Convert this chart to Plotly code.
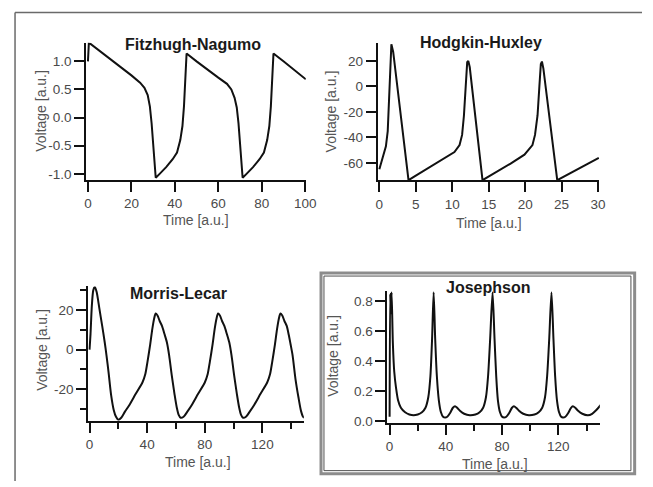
import plotly.graph_objects as go

# ---------------- data ----------------
fhn_t = [0, 0.4, 1.2, 5, 10, 15, 20, 24, 26, 27.5, 28.5, 29.3, 30, 30.7, 31.2,
         33, 36, 39, 41, 42.5, 43.5, 44.2, 44.8, 45.4,
         50, 55, 60, 64, 66, 67.5, 68.5, 69.3, 70, 70.7, 71.2,
         73, 76, 79, 81, 82.5, 83.5, 84.2, 84.8, 85.4, 90, 95, 100.3]
fhn_v = [1.0, 1.32, 1.31, 1.2, 1.05, 0.9, 0.75, 0.62, 0.53, 0.4, 0.2, -0.1, -0.5, -0.9, -1.07,
         -1.0, -0.88, -0.74, -0.62, -0.4, -0.15, 0.2, 0.8, 1.14,
         1.0, 0.85, 0.71, 0.6, 0.5, 0.35, 0.18, -0.1, -0.5, -0.9, -1.07,
         -1.0, -0.88, -0.74, -0.62, -0.4, -0.15, 0.2, 0.8, 1.14, 1.0, 0.84, 0.68]

hh_t = [0, 0.5, 0.9, 1.15, 1.3, 1.45, 1.65, 1.9, 4.0, 5, 7, 9, 10.3, 11, 11.35, 11.6, 11.85, 12.05, 12.2, 12.4,
        14.15, 16, 18, 19.9, 21, 21.35, 21.7, 21.95, 22.15, 22.3, 22.5, 24.4, 26, 28, 30.1]
hh_v = [-65, -55, -47, -35, -10, 15, 33, 27, -73.5, -70, -63, -56, -51.5, -46, -38, -23, 0, 19, 20, 15,
        -73.5, -67.5, -60.5, -53.5, -46, -38, -22.6, 0, 17.5, 19.5, 14, -73.5, -68.5, -62.5, -56]

ml_t = [0, 0.7, 1.6, 2.6, 3.7, 5, 6.8, 8.8, 10.5, 11.8, 13.3, 15, 16.8, 18.4, 20,
        22, 24.5, 27.7, 32, 36.8, 38.7, 40.2, 42, 43.6, 44.8, 45.9, 47.2, 48.7, 50.3, 52, 53.7,
        55.3, 57.1, 59, 60.5, 61.9, 63.3,
        65.3, 67.8, 71, 75.3, 80.1, 82, 83.5, 85.3, 86.9, 88.1, 89.2, 90.5, 92, 93.6, 95.3, 97,
        98.6, 100.4, 102.3, 103.8, 105.2, 106.6,
        108.6, 111.1, 114.3, 118.6, 123.4, 125.3, 126.8, 128.6, 130.2, 131.4, 132.5, 133.8, 135.3,
        136.9, 138.3, 139.5, 141, 143, 145, 146.8, 148.3, 149.5]
ml_v = [0, 8, 22, 30, 31.8, 29, 21, 12, 4, -3, -12, -23, -30.5, -34, -35.5,
        -34.5, -31.5, -28, -22.5, -16.5, -12.5, -6.3, 2, 10.5, 15.5, 18.3, 17.3, 14.5, 12, 8, 3.7,
        -3, -13, -22.5, -29, -33, -34.5,
        -34, -31.5, -28, -22.5, -16.5, -12.5, -6.3, 2, 10.5, 15.5, 18.3, 17.3, 14.5, 12, 8, 3.7,
        -3, -13, -22.5, -29, -33, -34.5,
        -34, -31.5, -28, -22.5, -16.5, -12.5, -6.3, 2, 10.5, 15.5, 18.3, 17.3, 14.5,
        12, 7.5, 3, -3, -15, -24, -31, -34, -34.5]

jj_t = [0, 0.4, 0.9, 1.4, 2.3, 3.3, 4.6, 6, 8, 11, 14, 17, 20, 23, 25.5, 27.5, 29, 30.2, 31.3,
        32.4, 33.6, 35, 36.5, 38, 39.5, 41, 43, 45, 46.5, 48, 50, 53, 57, 61, 64, 66.5, 68.5, 70,
        71.5, 73.2, 74.6, 75.8, 77, 78.5, 80, 81.4, 83, 85, 87, 88.4, 90, 92, 95, 99, 103, 106,
        108.5, 110.5, 112, 113.5, 115.1, 116.5, 117.7, 119, 120.5, 122, 123.3, 125, 127, 129,
        130.3, 132, 134, 137, 141, 144, 147, 150.3]
jj_v = [0.03, 0.85, 0.72, 0.86, 0.52, 0.33, 0.22, 0.14, 0.09, 0.06, 0.045, 0.04, 0.045, 0.06,
        0.09, 0.16, 0.3, 0.55, 0.86,
        0.55, 0.3, 0.14, 0.06, 0.03, 0.025, 0.03, 0.055, 0.09, 0.1, 0.09, 0.07, 0.05, 0.04, 0.045,
        0.06, 0.09, 0.16, 0.3,
        0.55, 0.86, 0.55, 0.3, 0.14, 0.06, 0.03, 0.025, 0.03, 0.055, 0.09, 0.1, 0.09, 0.07, 0.05,
        0.04, 0.045, 0.06,
        0.09, 0.16, 0.3, 0.55, 0.86, 0.55, 0.3, 0.14, 0.06, 0.03, 0.025, 0.03, 0.055, 0.09,
        0.1, 0.09, 0.07, 0.05, 0.04, 0.05, 0.075, 0.11]

titles = ["Fitzhugh-Nagumo", "Hodgkin-Huxley", "Morris-Lecar", "Josephson"]
xlabel = "Time [a.u.]"
ylabel = "Voltage [a.u.]"

fhn_xticks = [0, 20, 40, 60, 80, 100]
fhn_yticks = [1.0, 0.5, 0.0, -0.5, -1.0]
fhn_yticktext = ["1.0", "0.5", "0.0", "-0.5", "-1.0"]
hh_xticks = [0, 5, 10, 15, 20, 25, 30]
hh_yticks = [20, 0, -20, -40, -60]
hh_yticktext = ["20", "0", "-20", "-40", "-60"]
ml_xticks = [0, 40, 80, 120]
ml_xminor = [20, 60, 100, 140]
ml_yticks = [20, 0, -20]
ml_yticktext = ["20", "0", "-20"]
ml_yminor = [30, 10, -10, -30]
jj_xticks = [0, 40, 80, 120]
jj_xminor = [20, 60, 100, 140]
jj_yticks = [0.0, 0.2, 0.4, 0.6, 0.8]
jj_yticktext = ["0.0", "0.2", "0.4", "0.6", "0.8"]

# ---------------- layout helpers ----------------
W, H = 653, 487
def px(x):
    return x / W
def py(y):
    return 1 - y / H

FONT = "Arial, Liberation Sans, sans-serif"
TICKC = "#4a4a4a"
LINEC = "#111111"

fig = go.Figure()
traces = [(fhn_t, fhn_v, "linear"), (hh_t, hh_v, "linear"),
          (ml_t, ml_v, "spline"), (jj_t, jj_v, "spline")]
for i, (t, v, shp) in enumerate(traces):
    n = "" if i == 0 else str(i + 1)
    fig.add_trace(go.Scatter(x=t, y=v, mode="lines", xaxis="x" + n, yaxis="y" + n,
                             line=dict(color=LINEC, width=2, shape=shp,
                                       smoothing=0.7 if shp == "spline" else None),
                             showlegend=False, hoverinfo="skip"))

def xax(dom, rng, vals, anchor, minor=None):
    d = dict(domain=[px(dom[0]), px(dom[1])], range=rng, anchor=anchor,
             tickmode="array", tickvals=vals, ticktext=[str(v) for v in vals],
             ticks="outside", ticklen=10, tickwidth=2, tickcolor=LINEC,
             showline=True, linecolor=LINEC, linewidth=2, showgrid=False, zeroline=False,
             tickfont=dict(family=FONT, size=13.5, color=TICKC), fixedrange=True)
    if minor:
        d["minor"] = dict(tickmode="array", tickvals=minor, ticks="outside", ticklen=6,
                          tickwidth=2, tickcolor=LINEC, showgrid=False)
    return d

def yax(dom, rng, vals, text, anchor, minor=None):
    d = dict(domain=[py(dom[1]), py(dom[0])], range=rng, anchor=anchor,
             tickmode="array", tickvals=vals, ticktext=text,
             ticks="outside", ticklen=10, tickwidth=2, tickcolor=LINEC,
             showline=True, linecolor=LINEC, linewidth=2, showgrid=False, zeroline=False,
             tickfont=dict(family=FONT, size=13.5, color=TICKC), fixedrange=True)
    if minor:
        d["minor"] = dict(tickmode="array", tickvals=minor, ticks="outside", ticklen=6,
                          tickwidth=2, tickcolor=LINEC, showgrid=False)
    return d

fig.update_layout(
    width=W, height=H, margin=dict(l=0, r=0, t=0, b=0),
    paper_bgcolor="white", plot_bgcolor="white",
    xaxis=xax((86, 310), [-0.77, 100.3], fhn_xticks, "y"),
    yaxis=yax((43.3, 182), [-1.105, 1.33], fhn_yticks, fhn_yticktext, "x"),
    xaxis2=xax((383.3, 609.3), [-0.23, 30.15], hh_xticks, "y2"),
    yaxis2=yax((43.3, 182.7), [-73.7, 34.2], hh_yticks, hh_yticktext, "x2"),
    xaxis3=xax((88, 308), [-0.88, 148.8], ml_xticks, "y3", ml_xminor),
    yaxis3=yax((290, 426), [-36, 32], ml_yticks, ml_yticktext, "x3", ml_yminor),
    xaxis4=xax((393.3, 610), [-1.53, 149.5], jj_xticks, "y4", jj_xminor),
    yaxis4=yax((295, 428.5), [-0.013, 0.866], jj_yticks, jj_yticktext, "x4"),
)

ann = []
title_pos = [(195, 45), (489, 42.7), (180.5, 297), (495.7, 290.7)]
for (x, y), t in zip(title_pos, titles):
    ann.append(dict(text="<b>" + t + "</b>", x=px(x), y=py(y), xref="paper", yref="paper",
                    xanchor="center", yanchor="middle", showarrow=False,
                    font=dict(family=FONT, size=16, color="#1a1a1a")))
xlab_pos = [(198, 223), (497, 226), (200, 467.7), (503.3, 469.3)]
for x, y in xlab_pos:
    ann.append(dict(text=xlabel, x=px(x), y=py(y), xref="paper", yref="paper",
                    xanchor="center", yanchor="middle", showarrow=False,
                    font=dict(family=FONT, size=14, color="#555555")))
ylab_pos = [(39.5, 112.5), (335.5, 113), (40, 354), (338.3, 360.7)]
for x, y in ylab_pos:
    ann.append(dict(text=ylabel, x=px(x), y=py(y), xref="paper", yref="paper",
                    xanchor="center", yanchor="middle", showarrow=False, textangle=-90,
                    font=dict(family=FONT, size=14, color="#555555")))
fig.update_layout(annotations=ann)

shapes = [
    dict(type="line", xref="paper", yref="paper", x0=px(13.3), x1=px(653), y0=py(12.7), y1=py(12.7),
         line=dict(color="#6a6a6a", width=1.5)),
    dict(type="line", xref="paper", yref="paper", x0=px(13.3), x1=px(13.3), y0=py(12.7), y1=py(487),
         line=dict(color="#6a6a6a", width=1.5)),
    dict(type="rect", xref="paper", yref="paper", x0=px(325.5), x1=px(645.5), y0=py(479.7), y1=py(276.5),
         line=dict(color="#8c8c8c", width=3)),
    dict(type="rect", xref="paper", yref="paper", x0=px(328.5), x1=px(641.7), y0=py(476.5), y1=py(279.5),
         line=dict(color="#505050", width=1)),
]
fig.update_layout(shapes=shapes)

fig.write_html("out.html", config={"displayModeBar": False},
               post_script="document.body.style.margin='0px';document.body.style.overflow='hidden';")
